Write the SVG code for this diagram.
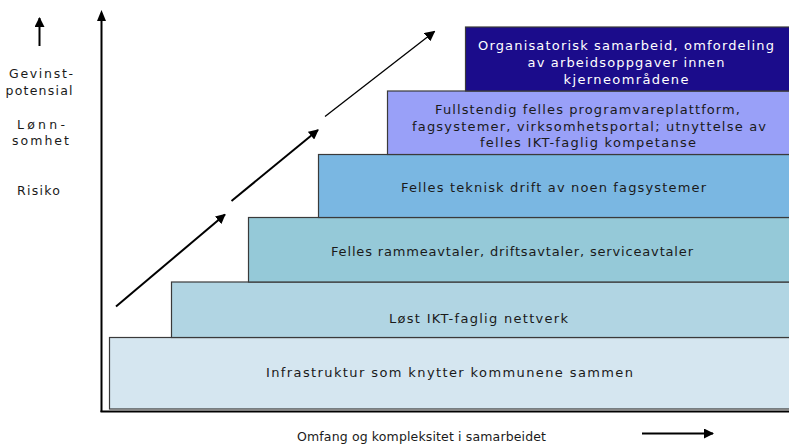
<svg xmlns="http://www.w3.org/2000/svg" width="789" height="446" viewBox="0 0 789 446">
<style>
.box{stroke:#3a3a3a;stroke-width:1.2}
.t{font-family:"DejaVu Sans",Verdana,sans-serif;font-size:13px;fill:#1a1a1a;text-anchor:middle}
.w{fill:#ffffff}
.lbl{font-family:"DejaVu Sans",Verdana,sans-serif;font-size:12.5px;fill:#1a1a1a;text-anchor:middle}
.ax{stroke:#000;stroke-width:2;fill:none}
.dg{stroke:#000;fill:none}
</style>
<defs>
<marker id="ah" viewBox="0 0 10 10" refX="9" refY="5" markerWidth="5" markerHeight="5" markerUnits="strokeWidth" orient="auto">
<path d="M0,0 L10,5 L0,10 Z" fill="#000"/>
</marker>
<marker id="ah2" viewBox="0 0 10 10" refX="9" refY="5" markerWidth="8" markerHeight="8" markerUnits="strokeWidth" orient="auto">
<path d="M0,0 L10,5 L0,10 Z" fill="#000"/>
</marker>
</defs>
<rect width="789" height="446" fill="#ffffff"/>

<g id="box1"><rect class="box" x="109.5" y="337.5" width="681" height="71.5" fill="#d5e6f0"/>
<text class="t" x="449.5" y="377" textLength="367" lengthAdjust="spacing">Infrastruktur som knytter kommunene sammen</text></g>
<g id="box2"><rect class="box" x="171.5" y="282" width="619" height="55.5" fill="#b1d5e3"/>
<text class="t" x="478.5" y="322.5" textLength="179" lengthAdjust="spacing">Løst IKT-faglig nettverk</text></g>
<g id="box3"><rect class="box" x="248.5" y="217.5" width="542" height="64.5" fill="#95c9d8"/>
<text class="t" x="512" y="256" textLength="362" lengthAdjust="spacing">Felles rammeavtaler, driftsavtaler, serviceavtaler</text></g>
<g id="box4"><rect class="box" x="318.5" y="154.5" width="472" height="63" fill="#7ab7e2"/>
<text class="t" x="553.5" y="192" textLength="305" lengthAdjust="spacing">Felles teknisk drift av noen fagsystemer</text></g>
<g id="box5"><rect class="box" x="387.5" y="91" width="403" height="63.5" fill="#99a0f8"/>
<text class="t" x="587.5" y="114" textLength="305" lengthAdjust="spacing">Fullstendig felles programvareplattform,</text>
<text class="t" x="589" y="130.5" textLength="354" lengthAdjust="spacing">fagsystemer, virksomhetsportal; utnyttelse av</text>
<text class="t" x="588" y="146.5" textLength="216" lengthAdjust="spacing">felles IKT-faglig kompetanse</text></g>
<g id="box6"><rect class="box" x="465.5" y="27" width="325" height="64" fill="#1b0c8b"/>
<text class="t w" x="626" y="50" textLength="296" lengthAdjust="spacing">Organisatorisk samarbeid, omfordeling</text>
<text class="t w" x="626" y="66.5" textLength="197" lengthAdjust="spacing">av arbeidsoppgaver innen</text>
<text class="t w" x="626" y="84" textLength="125" lengthAdjust="spacing">kjerneområdene</text></g>

<g id="connectors">
<line class="ax" x1="101.5" y1="412" x2="101.5" y2="20"/>
<path d="M101.5,10 L97,21 L106,21 Z" fill="#000"/>
<line class="ax" x1="100.5" y1="411.5" x2="789" y2="411.5"/>
<line class="dg" stroke-width="2" x1="116" y1="306.5" x2="225" y2="214.5" marker-end="url(#ah)"/>
<line class="dg" stroke-width="2" x1="231.5" y1="201" x2="318" y2="130" marker-end="url(#ah)"/>
<line class="dg" stroke-width="1.3" x1="325" y1="116.5" x2="434.5" y2="31.5" marker-end="url(#ah2)"/>
<line class="dg" stroke-width="2" x1="642" y1="433.5" x2="713" y2="433.5" marker-end="url(#ah)"/>
<line class="dg" stroke-width="2" x1="39.5" y1="46" x2="39.5" y2="18" marker-end="url(#ah)"/>
</g>

<g id="labels">
<text class="lbl" x="41" y="78" textLength="64" lengthAdjust="spacing">Gevinst-</text>
<text class="lbl" x="39" y="94.5" textLength="67" lengthAdjust="spacing">potensial</text>
<text class="lbl" x="41" y="128.5" textLength="48" lengthAdjust="spacing">Lønn-</text>
<text class="lbl" x="40.5" y="144.5" textLength="57" lengthAdjust="spacing">somhet</text>
<text class="lbl" x="38.5" y="195" textLength="43" lengthAdjust="spacing">Risiko</text>
<text class="lbl" x="421.5" y="441" textLength="249" lengthAdjust="spacing">Omfang og kompleksitet i samarbeidet</text>
</g>
</svg>
